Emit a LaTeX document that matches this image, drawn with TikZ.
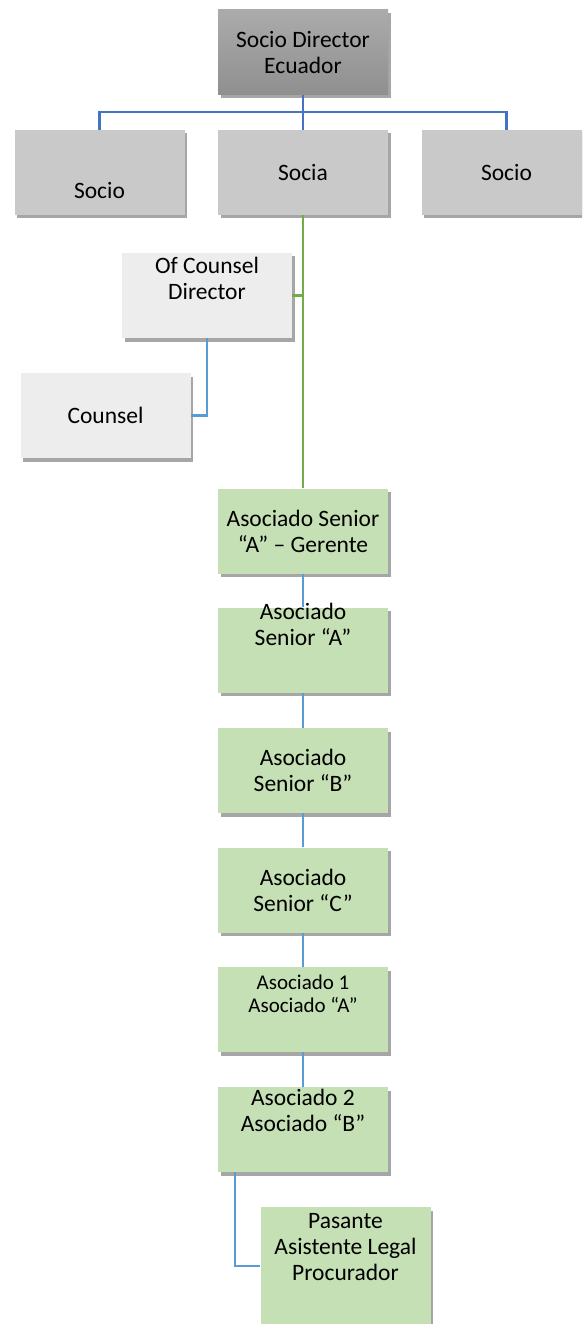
\documentclass[tikz,border=0pt]{standalone}
\usepackage{fontspec}
\setmainfont{Carlito}
\usepackage{tikz}
\usetikzlibrary{shadows}
\usepackage{xcolor}

\definecolor{dirtop}{HTML}{ABABAB}
\definecolor{dirbot}{HTML}{8F8F8F}
\definecolor{partnergray}{HTML}{C9C9C9}
\definecolor{counselgray}{HTML}{EDEDED}
\definecolor{assocgreen}{HTML}{C5E0B4}
\definecolor{darkblue}{HTML}{4472C4}
\definecolor{lightblue}{HTML}{5B9BD5}
\definecolor{linkgreen}{HTML}{70AD47}

\begin{document}
\begin{tikzpicture}[x=1pt, y=-1pt,
  box/.style={rectangle, minimum width=170pt, minimum height=85pt, inner sep=0pt,
    align=center, font=\fontsize{23.5}{26}\selectfont,
    drop shadow={shadow xshift=2.5pt, shadow yshift=-3.5pt, opacity=0.35, fill=black}},
  director/.style={box, top color=dirtop, bottom color=dirbot},
  partner/.style={box, fill=partnergray},
  counselbox/.style={box, fill=counselgray},
  assoc/.style={box, fill=assocgreen},
  lbl/.style={align=center, inner sep=0pt, font=\fontsize{23.5}{26}\selectfont},
  link/.style={line width=2.2pt}]
\useasboundingbox (0,0) rectangle (582,1324);
\clip (0,0) rectangle (582,1324);

% Socio Director and partners
\node[director] (dir) at (303,52.5) {Socio Director\\Ecuador};
\node[partner] (soc1) at (99.5,172.5) {};
\node[lbl] (soc1-t) at ([yshift=-17.5pt]soc1.center) {Socio};
\node[partner] (socia) at (303,172.5) {Socia};
\node[partner] (soc2) at (506.5,172.5) {Socio};

\coordinate (bus) at (303,112);
\draw[link, darkblue] (dir.south) -- (socia.north);
\draw[link, darkblue] (soc1.north) |- (bus) -| (soc2.north);

% Of Counsel branch
\node[counselbox] (ofc) at (207,295.5) {};
\node[lbl] (ofc-t) at ([yshift=17.5pt]ofc.center) {Of Counsel\\Director};
\node[counselbox] (cou) at (105.5,415.5) {Counsel};
\draw[link, lightblue] (ofc.south) |- (cou.east);

% Associates
\node[assoc] (g1) at (303,531) {Asociado Senior\\“A” -- Gerente};
\node[assoc] (g2) at (303,650) {};
\node[lbl] (g2-t) at ([yshift=25.5pt]g2.center) {Asociado\\Senior “A”};
\node[assoc] (g3) at (303,770.5) {Asociado\\Senior “B”};
\node[assoc] (g4) at (303,890) {Asociado\\Senior “C”};
\node[assoc] (g5) at (303,1009.5) {};
\node[lbl, font=\fontsize{21}{23}\selectfont] (g5-t) at ([yshift=16pt]g5.center) {Asociado 1\\Asociado “A”};
\node[assoc] (g6) at (303,1129.5) {};
\node[lbl] (g6-t) at ([yshift=19pt]g6.center) {Asociado 2\\Asociado “B”};
\node[assoc, minimum height=118pt] (pas) at (345.5,1266) {};
\node[lbl] (pas-t) at ([yshift=18.5pt]pas.center) {Pasante\\Asistente Legal\\Procurador};

\draw[link, linkgreen] (socia.south) -- (g1.north);
\draw[link, linkgreen] (ofc.east) -- (ofc.east -| socia.south);
\foreach \a/\b in {g1/g2, g2/g3, g3/g4, g4/g5, g5/g6}
  \draw[link, lightblue] (\a.south) -- (\b.north);
\draw[link, lightblue] ([xshift=17pt]g6.south west) |- (pas.west);
\end{tikzpicture}
\end{document}
